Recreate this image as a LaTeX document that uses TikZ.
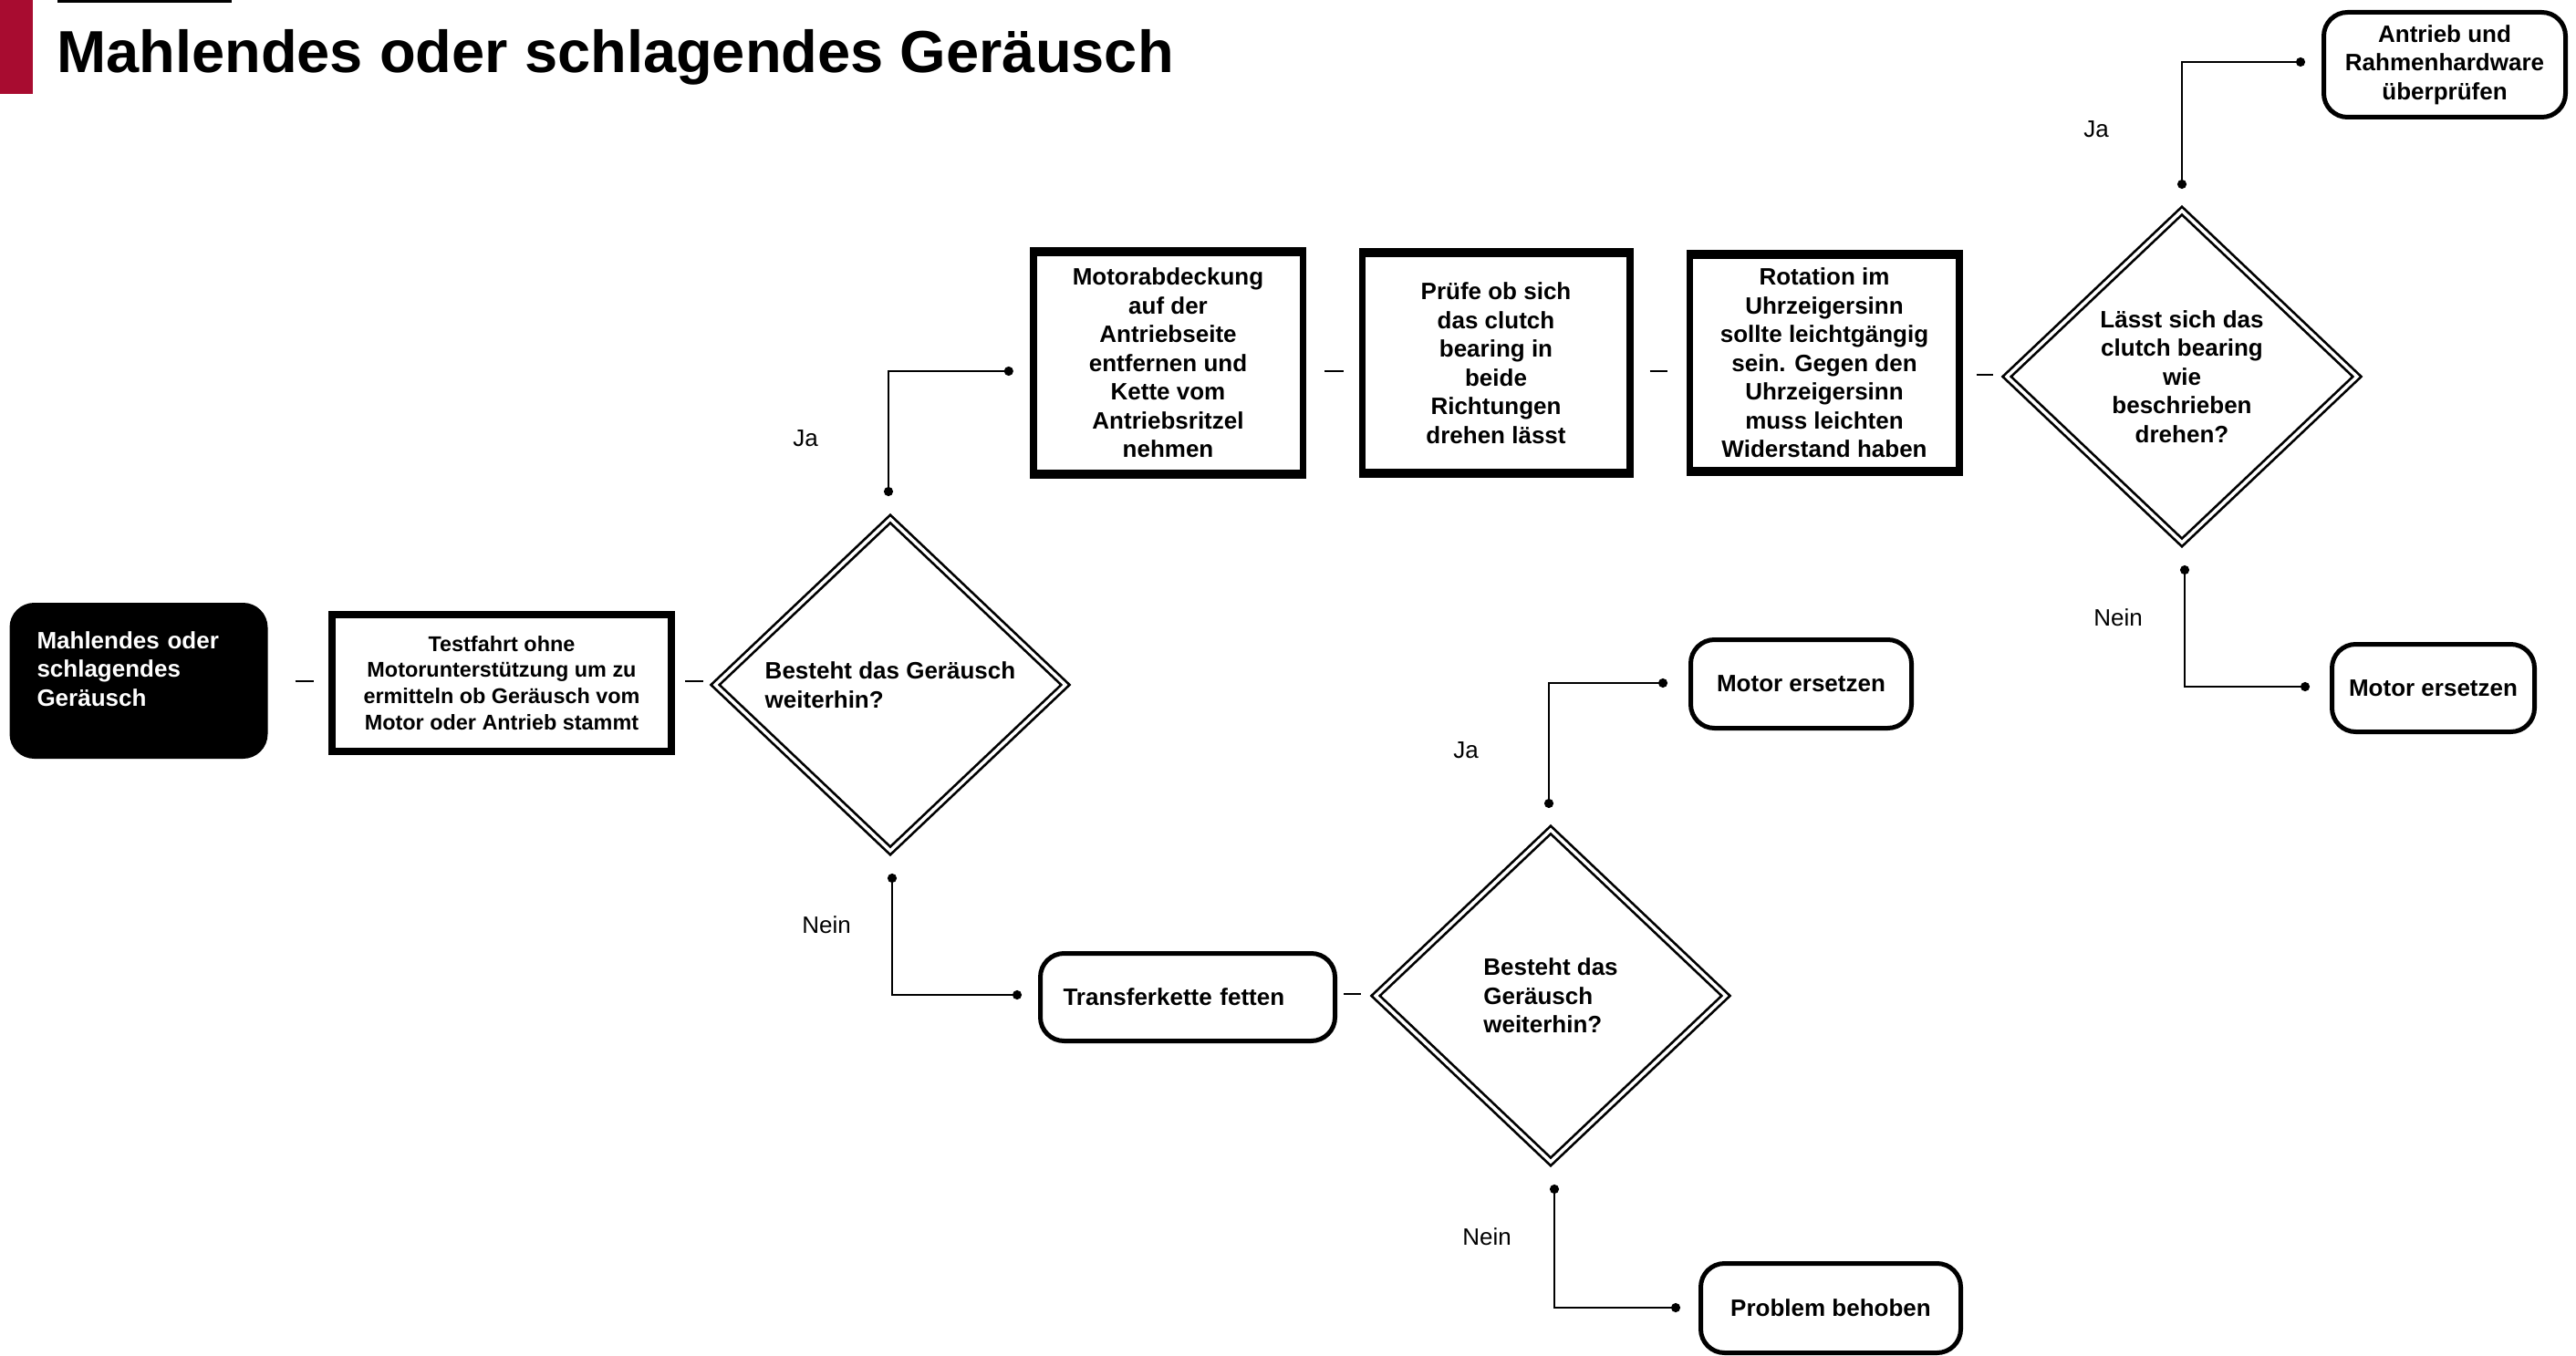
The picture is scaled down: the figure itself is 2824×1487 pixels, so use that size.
\documentclass[tikz,border=0pt]{standalone}
\usepackage{fontspec}
\setmainfont{Liberation Sans}
\usetikzlibrary{shapes.geometric,calc,arrows.meta}
\definecolor{brandred}{RGB}{168,12,48}
\begin{document}
\begin{tikzpicture}[x=1pt,y=-1pt,
 nodefont/.style={font=\bfseries\fontsize{26}{31.5}\selectfont},
 startbox/.style={rectangle, rounded corners=27pt, fill=black, text=white, minimum width=283pt, minimum height=171pt, inner sep=0pt, text width=223pt, align=left, nodefont},
 heavybox/.style 2 args={rectangle, fill=black, inner sep=0pt, align=center,
   path picture={\fill[white] ([xshift=#1,yshift=-#2]path picture bounding box.north west) rectangle ([xshift=-#1,yshift=#2]path picture bounding box.south east);}},
 decision/.style={diamond, draw, double, double distance=3.5pt, line width=2.7pt, minimum width=385pt, minimum height=365pt, inner sep=0pt, nodefont},
 endbox/.style={rectangle, rounded corners=26pt, draw, line width=5pt, inner sep=0pt, align=center, nodefont},
 conn/.style={line width=2.6pt, {Circle[length=10pt]}-{Circle[length=10pt]}},
 dashline/.style={line width=2.6pt},
 answer/.style={font=\fontsize{26}{31.5}\selectfont}
]
\fill[white] (0,0) rectangle (2824,1487);
\useasboundingbox (0,0) rectangle (2824,1487);

% header
\fill[brandred] (0,0) rectangle (36,103);
\fill[black] (63,0) rectangle (254,3);
\node[anchor=base west, inner sep=0pt, font=\bfseries\fontsize{65}{78}\selectfont] (title) at (62,80) {Mahlendes oder schlagendes Geräusch};

% nodes
\node[startbox] (start) at (152,746.5) {Mahlendes oder\\schlagendes\\Geräusch\\[-5.5pt]\mbox{}};
\node[heavybox={8pt}{8pt}, minimum width=380pt, minimum height=158pt, font=\bfseries\fontsize{23.4}{28.8}\selectfont] (b1) at (550,749) {Testfahrt ohne\\Motorunterstützung um zu\\ermitteln ob Geräusch vom\\Motor oder Antrieb stammt};
\node[decision, align=left] (d1) at (976,751) {Besteht das Geräusch\\weiterhin?};

\node[heavybox={7.5pt}{10.5pt}, minimum width=303pt, minimum height=254pt, nodefont] (b2) at (1280.5,398) {Motorabdeckung\\auf der\\Antriebseite\\entfernen und\\Kette vom\\Antriebsritzel\\nehmen};
\node[heavybox={7.5pt}{10.5pt}, minimum width=301pt, minimum height=252pt, nodefont] (b3) at (1640,398) {Prüfe ob sich\\das clutch\\bearing in\\beide\\Richtungen\\drehen lässt};
\node[heavybox={7.5pt}{10.5pt}, minimum width=303pt, minimum height=248pt, nodefont] (b4) at (2000,398) {Rotation im\\Uhrzeigersinn\\sollte leichtgängig\\sein. Gegen den\\Uhrzeigersinn\\muss leichten\\Widerstand haben};
\node[decision, align=center] (d2) at (2392,413) {Lässt sich das\\clutch bearing\\wie\\beschrieben\\drehen?};

\node[endbox, minimum width=265pt, minimum height=115pt] (tr) at (2680,71) {Antrieb und\\Rahmenhardware\\überprüfen};
\node[endbox, minimum width=222pt, minimum height=96pt] (me1) at (2667.5,754.5) {Motor ersetzen};

\node[endbox, minimum width=323pt, minimum height=96pt, text width=273pt, align=left] (tk) at (1302,1093.5) {Transferkette fetten};
\node[decision, align=left] (d3) at (1700,1092) {Besteht das\\Geräusch\\weiterhin?};
\node[endbox, minimum width=242pt, minimum height=97pt] (me2) at (1974.5,750) {Motor ersetzen};
\node[endbox, minimum width=285pt, minimum height=98pt] (pb) at (2007,1434.5) {Problem behoben};

% short dash connectors
\draw[dashline] ($(start.east)+(30,0.5)$) -- ($(b1.west)+(-16,-2)$);
\draw[dashline] ($(b1.east)+(11,-2)$) -- ($(d1.center)+(-205,-4)$);
\draw[dashline] ($(b2.east)+(20,9)$) -- ($(b3.west)+(-16,9)$);
\draw[dashline] ($(b3.east)+(18,9)$) -- ($(b4.west)+(-20,9)$);
\draw[dashline] ($(b4.east)+(15,13)$) -- ($(d2.center)+(-207,-2)$);
\draw[dashline] ($(tk.east)+(7,-3.5)$) -- ($(d3.center)+(-208,-2)$);

% decision connectors
\draw[conn] ($(d1.center)+(-2,-207)$) |- ($(b2.west)+(-18,9)$);
\draw[conn] ($(d1.center)+(2,207)$) |- ($(tk.west)+(-18,-2.5)$);
\draw[conn] ($(d2.center)+(0,-206)$) |- ($(tr.west)+(-18,-3)$);
\draw[conn] ($(d2.center)+(3,207)$) |- ($(me1.west)+(-22,-1.5)$);
\draw[conn] ($(d3.center)+(-2,-206)$) |- ($(me2.west)+(-23,-1)$);
\draw[conn] ($(d3.center)+(4,207)$) |- ($(pb.west)+(-20,-0.5)$);

% answer labels
\node[answer] (ja1) at (883,481) {Ja};
\node[answer] (nein1) at (906,1014) {Nein};
\node[answer] (ja2) at (2298,142) {Ja};
\node[answer] (nein2) at (2322,677) {Nein};
\node[answer] (ja3) at (1607,823) {Ja};
\node[answer] (nein3) at (1630,1356) {Nein};
\end{tikzpicture}
\end{document}
